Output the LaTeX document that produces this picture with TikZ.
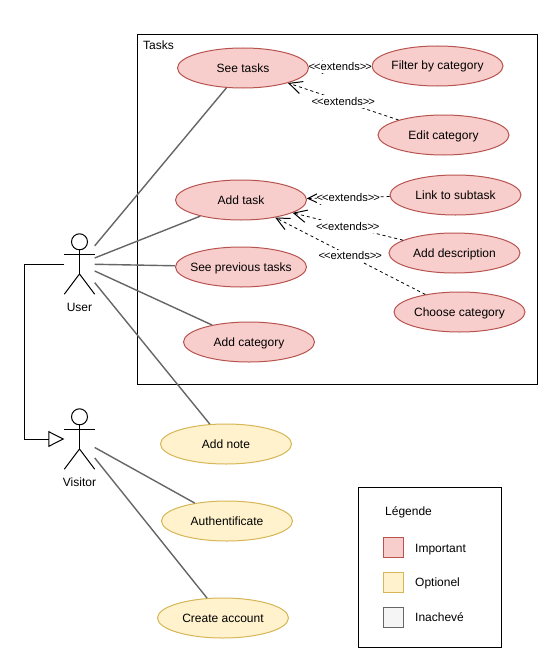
\documentclass[tikz,border=0pt]{standalone}
\usepackage{fontspec}
\setmainfont{Liberation Sans}
\usetikzlibrary{arrows.meta, shapes.geometric}
\tikzset{
    usecase/.style = {ellipse, draw, line width = 1pt, minimum width = 131, minimum height = 40, inner xsep = -20pt, inner ysep = 0pt, text height = 10pt, text depth = 2pt, font = \fontsize{12}{14}\selectfont},
    important/.style = {usecase, draw = importantline, fill = importantfill},
    optional/.style = {usecase, draw = optionalline, fill = optionalfill},
    swatch/.style = {rectangle, draw, line width = 1pt, minimum size = 20, inner sep = 0pt},
    frame/.style = {rectangle, draw = black, line width = 1pt, inner sep = 0pt},
    caption/.style = {font = \fontsize{12}{14}\selectfont, inner sep = 0pt, text height = 10pt, text depth = 2pt},
    actor/.style = {rectangle, minimum width = 30, minimum height = 60, inner sep = 0pt},
    assoc/.style = {draw = unfinishedline, line width = 1.4pt},
    extends/.style = {black, line width = 0.8pt, dash pattern = on 3pt off 3pt, -{Straight Barb[length = 13pt, width = 12.5pt, line width = 1pt]}},
    extlabel/.style = {fill = white, inner sep = 0pt, text height = 10pt, text depth = 2.5pt, font = \fontsize{11.2}{13}\selectfont}
}
\definecolor{importantfill}{HTML}{F8CECC}
\definecolor{importantline}{HTML}{B85450}
\definecolor{optionalfill}{HTML}{FFF2CC}
\definecolor{optionalline}{HTML}{D6B656}
\definecolor{unfinishedfill}{HTML}{F5F5F5}
\definecolor{unfinishedline}{HTML}{666666}
\newcommand{\stickman}[1]{
    \draw[black, line width = 1pt] ([yshift = -8]#1.north) circle (8);
    \draw[black, line width = 1pt] ([yshift = -16]#1.north) -- ([yshift = -10]#1.center);
    \draw[black, line width = 1pt] ([yshift = 10]#1.west) -- ([yshift = 10]#1.east);
    \draw[black, line width = 1pt] (#1.south west) -- ([yshift = -10]#1.center) -- (#1.south east);
}
\newcommand{\extext}{<\kern-1pt<extends>\kern-1pt>}
\begin{document}
\begin{tikzpicture}[x = 1pt, y = -1pt]
                \useasboundingbox (0,0) rectangle (552,669);

                \node[frame, minimum width = 400, minimum height = 349] (tasksbox) at (337,209.5) {};
                \node[caption, anchor = west] (taskstitle) at (143,46) {Tasks};

                \node[important] (seetasks) at (243,68) {See tasks};
                \node[important] (filter) at (437.5,66) {Filter by category};
                \node[important] (editcat) at (443.5,135) {Edit category};
                \node[important] (addtask) at (241,200) {Add task};
                \node[important] (subtask) at (455.5,195) {Link to subtask};
                \node[important] (adddesc) at (454.5,253) {Add description};
                \node[important] (choosecat) at (459.5,312) {Choose category};
                \node[important] (previous) at (241,267) {See previous tasks};
                \node[important] (addcat) at (249,342) {Add category};
                \node[optional] (addnote) at (226,444) {Add note};
                \node[optional] (auth) at (227,521) {Authentificate};
                \node[optional] (account) at (223,618) {Create account};

                \node[actor] (user) at (79.5,264) {};
                \node[actor] (visitor) at (79.5,439) {};
                \stickman{user}
                \stickman{visitor}
                \node[caption] (userlabel) at (79.5,307) {User};
                \node[caption] (visitorlabel) at (79.5,482) {Visitor};

                \draw[assoc] (user) -- (seetasks);
                \draw[assoc] (user) -- (addtask);
                \draw[assoc] (user) -- (previous);
                \draw[assoc] (user) -- (addcat);
                \draw[assoc] (user) -- (addnote);
                \draw[assoc] (visitor) -- (auth);
                \draw[assoc] (visitor) -- (account);

                \draw[black, line width = 1pt, -{Triangle[open, length = 16pt, width = 16pt, line width = 1pt]}] (user.west) -- ++(-40,0) |- (visitor.west);

                \draw[extends] (filter) -- node[extlabel] (extfilter) {\extext} (seetasks);
                \draw[extends] (editcat) -- node[extlabel] (extedit) {\extext} (seetasks);
                \draw[extends] (subtask) -- node[extlabel] (extsubtask) {\extext} (addtask);
                \draw[extends] (adddesc) -- node[extlabel] (extdesc) {\extext} (addtask);
                \draw[extends] (choosecat) -- node[extlabel] (extchoose) {\extext} (addtask);

                \node[frame, minimum width = 143, minimum height = 160] (legendbox) at (429.5,567) {};
                \node[caption, anchor = west] (legendtitle) at (385,511) {Légende};
                \node[swatch, draw = importantline, fill = importantfill] (legendred) at (393,547) {};
                \node[swatch, draw = optionalline, fill = optionalfill] (legendyellow) at (393,582) {};
                \node[swatch, draw = unfinishedline, fill = unfinishedfill] (legendgrey) at (393,617) {};
                \node[caption, anchor = west] (legendredtext) at (415,548) {Important};
                \node[caption, anchor = west] (legendyellowtext) at (415,582) {Optionel};
                \node[caption, anchor = west] (legendgreytext) at (415,617) {Inachevé};
\end{tikzpicture}
\end{document}
